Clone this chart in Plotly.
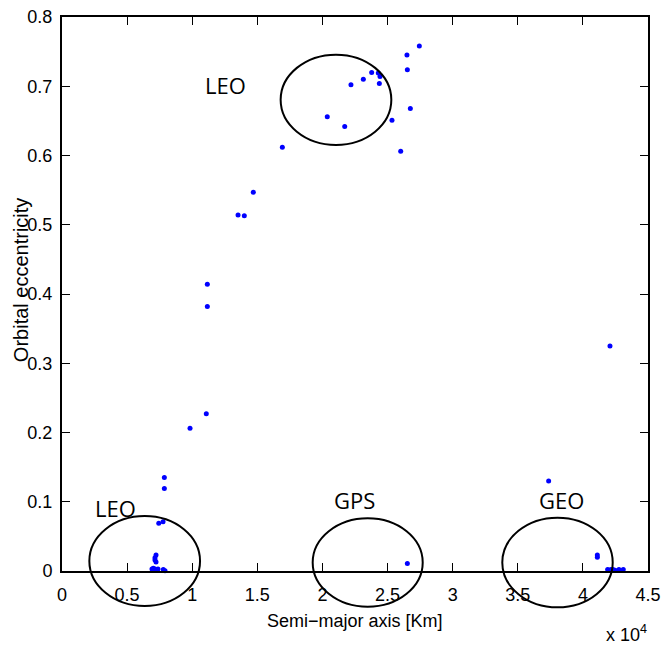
import plotly.graph_objects as go

# Semi-major axis [km] and orbital eccentricity of the objects
semi_major_axis_km = [
    27440, 26490, 26520, 26750, 25340, 26010, 16920, 22190, 23140, 23780,
    24290, 24420, 24370, 20370, 21710,
    14690, 13520, 14000, 11160, 11160, 11080, 9830, 7860, 7860, 7430, 7760,
    7220, 7140, 7140, 7220, 7010, 6910, 7140, 7780, 7910, 7370,
    26520, 37370, 42080, 41110, 41110,
    41900, 42000, 42160, 42310, 42470, 42770, 43100,
]
eccentricity = [
    0.758, 0.745, 0.724, 0.668, 0.651, 0.606, 0.612, 0.702, 0.710, 0.720,
    0.719, 0.714, 0.704, 0.656, 0.642,
    0.547, 0.514, 0.513, 0.414, 0.382, 0.227, 0.206, 0.135, 0.119, 0.069, 0.071,
    0.023, 0.019, 0.016, 0.013, 0.004, 0.003, 0.003, 0.002, 0.0005, 0.003,
    0.011, 0.130, 0.325, 0.020, 0.023,
    0.002, 0.001, 0.002, 0.002, 0.001, 0.002, 0.002,
]

x_tick_vals = [0, 5000, 10000, 15000, 20000, 25000, 30000, 35000, 40000, 45000]
x_tick_text = ["0", "0.5", "1", "1.5", "2", "2.5", "3", "3.5", "4", "4.5"]
y_tick_vals = [0, 0.1, 0.2, 0.3, 0.4, 0.5, 0.6, 0.7, 0.8]
y_tick_text = ["0", "0.1", "0.2", "0.3", "0.4", "0.5", "0.6", "0.7", "0.8"]

# Region annotations: label, label position, ellipse bounds (data units)
region_labels = ["LEO", "LEO", "GPS", "GEO"]
label_x = [12590, 4090, 22460, 38390]
label_y = [0.702, 0.091, 0.1025, 0.1025]
ellipse_x0 = [16790, 2100, 19250, 33810]
ellipse_x1 = [25290, 10600, 27700, 42290]
ellipse_y0 = [0.6152, -0.0505, -0.0516, -0.0524]
ellipse_y1 = [0.7456, 0.0794, 0.0761, 0.0770]

X_RANGE = [0, 45000]
Y_RANGE = [0, 0.8]

FONT = "Liberation Sans, Arial, sans-serif"
tick_font = dict(family=FONT, size=18, color="black")

fig = go.Figure()
fig.add_trace(go.Scatter(
    x=semi_major_axis_km, y=eccentricity, mode="markers",
    marker=dict(color="#0000ff", size=5, line=dict(width=0)),
    cliponaxis=False, showlegend=False, hoverinfo="x+y",
))

def to_paper_x(v):
    return (v - X_RANGE[0]) / (X_RANGE[1] - X_RANGE[0])

def to_paper_y(v):
    return (v - Y_RANGE[0]) / (Y_RANGE[1] - Y_RANGE[0])

for i in range(len(region_labels)):
    fig.add_shape(
        type="circle", xref="paper", yref="paper",
        x0=to_paper_x(ellipse_x0[i]), x1=to_paper_x(ellipse_x1[i]),
        y0=to_paper_y(ellipse_y0[i]), y1=to_paper_y(ellipse_y1[i]),
        line=dict(color="black", width=2), layer="above",
    )
    fig.add_annotation(
        x=label_x[i], y=label_y[i], xref="x", yref="y", text=region_labels[i],
        showarrow=False, font=dict(family="Open Sans, Noto Sans, sans-serif", size=22, color="black"),
        xanchor="center", yanchor="middle",
    )

# Axis titles and exponent label
fig.add_annotation(
    xref="paper", yref="paper", x=0.5, y=0, yshift=-50,
    text="Semi\u2212major axis [Km]", showarrow=False, xanchor="center", yanchor="middle",
    font=dict(family=FONT, size=18, color="black"),
)
fig.add_annotation(
    xref="paper", yref="paper", x=0, y=0.525, xshift=-41,
    text="Orbital eccentricity", showarrow=False, textangle=-90,
    xanchor="center", yanchor="middle",
    font=dict(family=FONT, size=20, color="black"),
)
fig.add_annotation(
    xref="paper", yref="paper", x=0.964, y=0, yshift=-62,
    text="x 10<sup>4</sup>", showarrow=False, xanchor="center", yanchor="middle",
    font=dict(family=FONT, size=18, color="black"),
)

fig.update_layout(
    width=664, height=651,
    margin=dict(l=62, r=16, t=17, b=80, pad=0),
    plot_bgcolor="white", paper_bgcolor="white",
    showlegend=False,
)
fig.update_xaxes(
    range=X_RANGE, tickvals=x_tick_vals, ticktext=x_tick_text,
    ticks="inside", ticklen=8, tickwidth=1, tickcolor="black",
    showline=True, linecolor="black", linewidth=2, mirror="ticks",
    showgrid=False, zeroline=False, tickfont=tick_font, ticklabelstandoff=6,
    automargin=False,
)
fig.update_yaxes(
    range=Y_RANGE, tickvals=y_tick_vals, ticktext=y_tick_text,
    ticks="inside", ticklen=8, tickwidth=1, tickcolor="black",
    showline=True, linecolor="black", linewidth=2, mirror="ticks",
    showgrid=False, zeroline=False, tickfont=tick_font, ticklabelstandoff=4,
    automargin=False,
)

fig.write_html("out.html")
